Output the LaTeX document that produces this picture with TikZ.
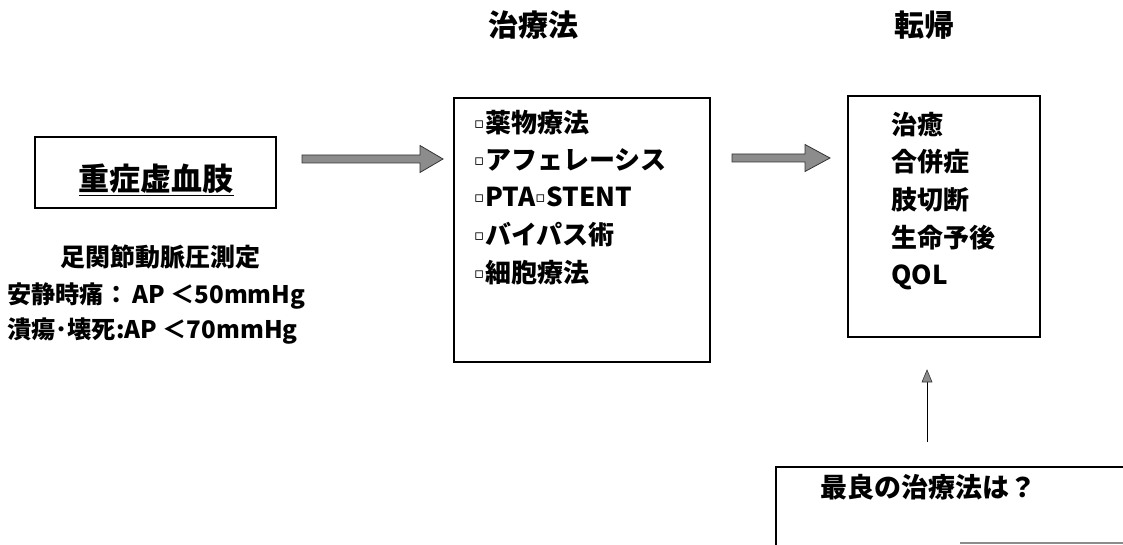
\documentclass[tikz,border=0pt]{standalone}
\usepackage{fontspec}
\setmainfont{Noto Sans CJK JP}
\newfontfamily\djv{DejaVu Sans}
\newcommand{\bul}{\raisebox{4pt}{\djv\fontsize{15}{15}\selectfont ▫}\hspace{1pt}}
\tikzset{
  frame/.style={draw=black, line width=1.2pt},
  txt/.style={inner sep=0pt, font=\fontsize{26}{26}\selectfont\bfseries},
  lft/.style={inner sep=0pt, font=\fontsize{25}{25}\selectfont\bfseries},
  lfs/.style={inner sep=0pt, font=\fontsize{24.2}{24.2}\selectfont\bfseries},
  head/.style={inner sep=0pt, font=\fontsize{30}{30}\selectfont\bfseries},
  fat/.style={draw=black!80, fill=black!45, line width=0.8pt, line join=miter},
  thin/.style={draw=black, line width=1pt},
}
\begin{document}
\begin{tikzpicture}[x=1pt,y=-1pt]
\useasboundingbox (0,0) rectangle (1123,545);
% headers
\node[head] (h1) at (533,25) {治療法};
\node[head] (h2) at (924,25) {転帰};
% box 1
\draw[frame] (35,137) rectangle (276,208);
\node[inner sep=0pt, font=\fontsize{31}{31}\selectfont\bfseries] (b1) at (156,180) {\underline{重症虚血肢}};
\node[lft] (l1) at (160,257) {足関節動脈圧測定};
\node[lfs, anchor=west] (l2) at (7,296) {安静時痛：\,AP ＜50mmHg};
\node[lfs, anchor=west] (l3) at (7,331) {潰瘍･壊死:AP ＜70mmHg};
% box 2
\draw[frame] (454,98) rectangle (710,362);
\node[txt, anchor=west] (t1) at (474,123) {\bul 薬物療法};
\node[txt, anchor=west] (t2) at (474,160) {\bul アフェレーシス};
\node[txt, anchor=west] (t3) at (474,197) {\bul PTA\bul STENT};
\node[txt, anchor=west] (t4) at (474,235) {\bul バイパス術};
\node[txt, anchor=west] (t5) at (474,273) {\bul 細胞療法};
% box 3
\draw[frame] (848,96) rectangle (1040,337);
\node[txt, anchor=west] (o1) at (891,125) {治癒};
\node[txt, anchor=west] (o2) at (891,162) {合併症};
\node[txt, anchor=west] (o3) at (891,200) {肢切断};
\node[txt, anchor=west] (o4) at (891,238) {生命予後};
\node[txt, anchor=west] (o5) at (891,277) {QOL};
% bottom box
\draw[frame] (1130,467) -- (776,467) -- (776,545);
\draw[frame, draw=black!45] (960,543) -- (1130,543);
\node[inner sep=0pt, font=\fontsize{27}{27}\selectfont\bfseries, anchor=west] (q) at (820,487) {最良の治療法は？};
% fat arrows
\coordinate (a1s) at (302,159);
\coordinate (a1e) at (443,159);
\draw[fat] (a1s) ++(0,-4) -- ++(118,0) -- ++(0,-9.5) -- (a1e) -- ++(-23,13.5) -- ++(0,-9.5) -- ++(-118,0) -- cycle;
\coordinate (a2s) at (732,158);
\coordinate (a2e) at (830,158);
\draw[fat] (a2s) ++(0,-4) -- ++(73,0) -- ++(0,-9.5) -- (a2e) -- ++(-25,13.5) -- ++(0,-9.5) -- ++(-73,0) -- cycle;
% up arrow
\coordinate (u1) at (927,442);
\coordinate (u2) at (927,370);
\draw[thin] (u1) -- (927,380);
\draw[fat, line width=0.6pt] (u2) -- (922,382) -- (932,382) -- cycle;
\end{tikzpicture}
\end{document}
